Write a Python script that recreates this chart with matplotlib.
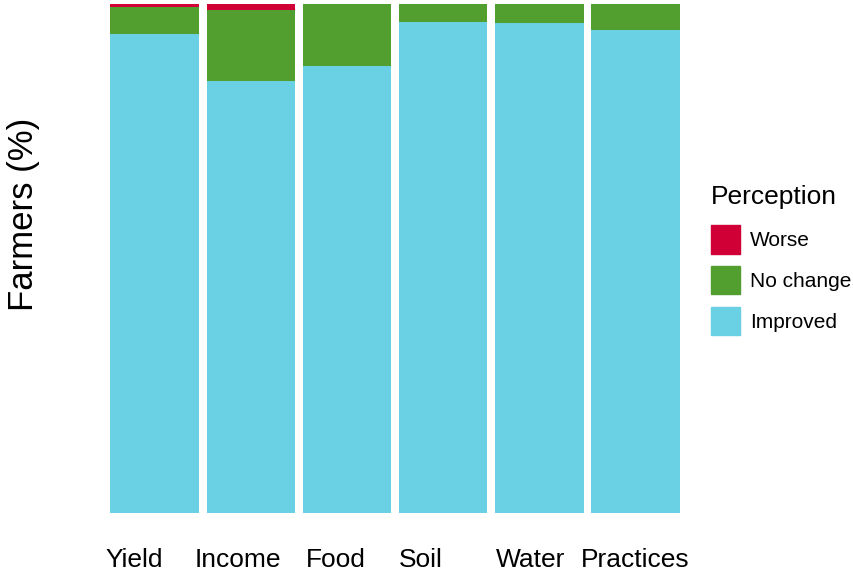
import numpy as np
import matplotlib.pyplot as plt
import matplotlib.transforms as mtransforms
from matplotlib.patches import Patch

plt.rcParams['font.family'] = ['Liberation Sans', 'DejaVu Sans']

# === DONNÉES (%) ===
categories = ["Yield", "Income", "Food", "Soil", "Water", "Practices"]
improved = [94.1, 84.8, 87.8, 96.4, 96.3, 94.9]
no_change = [5.3, 14.0, 12.2, 3.6, 3.7, 5.1]
worse = [0.6, 1.2, 0.0, 0.0, 0.0, 0.0]

col_worse = "#D00036"
col_nochange = "#529E2F"
col_improved = "#69D1E3"

# décalage horizontal des étiquettes (points)
label_shift = [-15, -9, -8, -16, -6, 0]

fig = plt.figure(figsize=(8.54, 5.72), dpi=100)
ax = fig.add_axes([0.1136, 0.1031, 0.698, 0.8899])

x = np.arange(1, len(categories) + 1)
imp = np.array(improved)
noc = np.array(no_change)
wor = np.array(worse)

ax.bar(x, imp, width=0.92, color=col_improved, linewidth=0)
ax.bar(x, noc, width=0.92, bottom=imp, color=col_nochange, linewidth=0)
ax.bar(x, wor, width=0.92, bottom=imp + noc, color=col_worse, linewidth=0)

ax.set_xlim(0.4, len(categories) + 0.6)
ax.set_ylim(0, 100)
ax.set_yticks([])
ax.set_xticks(x)
ax.set_xticklabels(categories, fontsize=19)
ax.tick_params(axis="x", length=0, pad=25)
for lab, dx in zip(ax.get_xticklabels(), label_shift):
    lab.set_transform(lab.get_transform() + mtransforms.ScaledTranslation(dx / 72, 0, fig.dpi_scale_trans))
for s in ax.spines.values():
    s.set_visible(False)

fig.text(0.028, 0.626, "Farmers (%)", rotation=90, fontsize=25, ha="center", va="center")

handles = [Patch(color=col_worse, label="Worse"),
           Patch(color=col_nochange, label="No change"),
           Patch(color=col_improved, label="Improved")]
leg = fig.legend(handles=handles, title="Perception", loc="upper left",
                 bbox_to_anchor=(0.832, 0.677), frameon=False, fontsize=15,
                 title_fontsize=19, handlelength=1.4, handleheight=1.7,
                 handletextpad=0.5, labelspacing=0.6, borderpad=0, borderaxespad=0)
leg._legend_box.align = "left"
leg._legend_box.sep = 12

fig.savefig("out.png", dpi=100)
